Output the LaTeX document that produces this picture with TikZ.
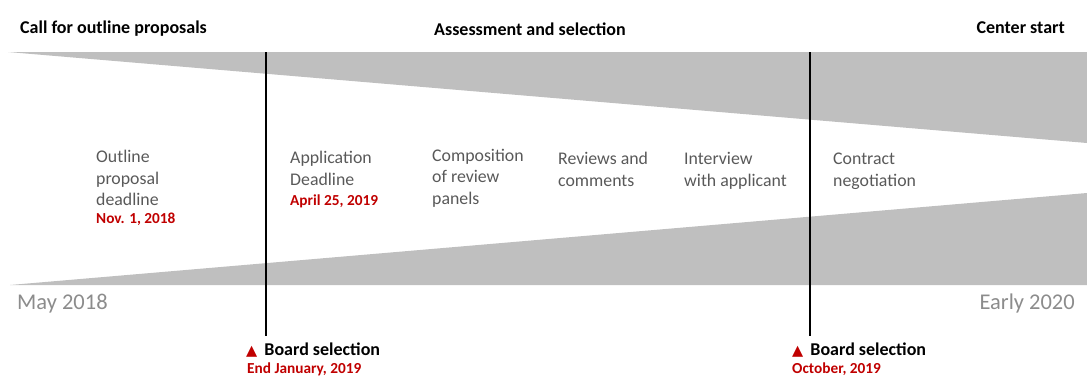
\documentclass[tikz,border=0pt]{standalone}
\usepackage{fontspec}
\setmainfont{Carlito}
\newfontfamily\symf{DejaVu Sans}
\definecolor{band}{HTML}{BFBFBF}
\definecolor{lblgray}{HTML}{595959}
\definecolor{lightgray2}{HTML}{8C8C8C}
\definecolor{darkred}{HTML}{C00000}
\begin{document}
\begin{tikzpicture}[x=1pt,y=-1pt,
  head/.style={font=\fontsize{18}{21}\selectfont\bfseries, inner sep=0},
  lbl/.style={font=\fontsize{17.8}{21.5}\selectfont, text=lblgray, align=left, inner sep=0, anchor=base west},
  datelbl/.style={font=\fontsize{15.3}{18}\selectfont\bfseries, text=darkred, inner sep=0, anchor=base west},
  yearlbl/.style={font=\fontsize{22.5}{26}\selectfont, text=lightgray2, inner sep=0},
  board/.style={font=\fontsize{18}{21}\selectfont\bfseries, inner sep=0, anchor=base west},
  milestone/.style={line width=2pt, black}
]
\useasboundingbox (0,0) rectangle (1087,376);
% bands
\fill[band] (8,52) -- (1087,52) -- (1087,143) -- cycle;
\fill[band] (10,285) -- (1087,285) -- (1087,193) -- cycle;
% milestone lines
\coordinate (m1top) at (266,52);
\coordinate (m1bot) at (266,336);
\coordinate (m2top) at (810,52);
\coordinate (m2bot) at (810,336);
\draw[milestone] (m1top) -- (m1bot);
\draw[milestone] (m2top) -- (m2bot);
% headings
\node[head, anchor=base west] (h1) at (20,33) {Call for outline proposals};
\node[head, anchor=base] (h2) at (530,35) {Assessment and selection};
\node[head, anchor=base east] (h3) at (1065,33) {Center start};
% labels (anchored at the baseline of the last line)
\node[lbl] (l1) at (96,205.5) {Outline\\proposal\\deadline};
\node[datelbl] (d1) at (96,223) {Nov. 1, 2018};
\node[lbl] (l2) at (290,185) {Application\\Deadline};
\node[datelbl] (d2) at (290,205) {April 25, 2019};
\node[lbl] (l3) at (432,204) {Composition\\of review\\panels};
\node[lbl] (l4) at (558,186) {Reviews and\\comments};
\node[lbl] (l5) at (684,186) {Interview\\with applicant};
\node[lbl] (l6) at (833,186) {Contract\\negotiation};
% years
\node[yearlbl, anchor=base west] (y1) at (17,309) {May 2018};
\node[yearlbl, anchor=base east] (y2) at (1075,309) {Early 2020};
% board selections
\node[board] (b1) at (246,355) {{\symf\fontsize{14.5}{16}\selectfont\color{darkred}▲}\hspace{3pt} Board selection};
\node[datelbl] (bd1) at (247,373) {End January, 2019};
\node[board] (b2) at (792,355) {{\symf\fontsize{14.5}{16}\selectfont\color{darkred}▲}\hspace{3pt} Board selection};
\node[datelbl] (bd2) at (792,373) {October, 2019};
\end{tikzpicture}
\end{document}
